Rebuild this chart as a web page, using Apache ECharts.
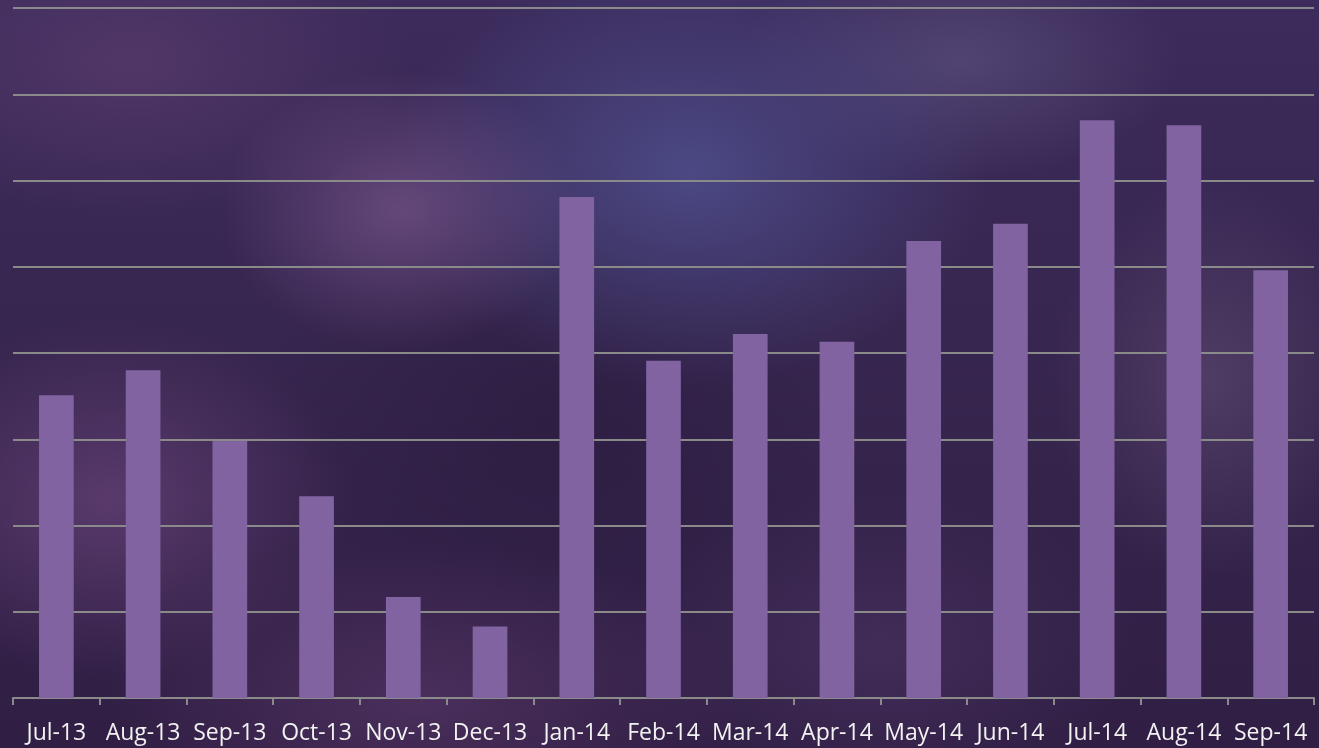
<!DOCTYPE html>
<html>
<head>
<meta charset="utf-8">
<script src="https://cdn.jsdelivr.net/npm/echarts@6/dist/echarts.min.js"></script>
<style>
html,body{margin:0;padding:0;width:1319px;height:748px;overflow:hidden;}
#bg{position:absolute;left:0;top:0;width:1319px;height:748px;
background:
radial-gradient(ellipse 180px 140px at 400px 210px, rgba(115,82,135,0.75), rgba(115,82,135,0) 100%),
radial-gradient(ellipse 300px 220px at 690px 170px, rgba(78,78,140,0.85), rgba(78,78,140,0) 100%),
radial-gradient(ellipse 220px 120px at 960px 60px, rgba(95,85,130,0.6), rgba(95,85,130,0) 100%),
radial-gradient(ellipse 160px 200px at 1210px 380px, rgba(100,80,120,0.55), rgba(100,80,120,0) 100%),
radial-gradient(ellipse 240px 180px at 110px 500px, rgba(110,70,125,0.65), rgba(110,70,125,0) 100%),
radial-gradient(ellipse 280px 160px at 130px 60px, rgba(90,60,110,0.7), rgba(90,60,110,0) 100%),
radial-gradient(ellipse 320px 160px at 420px 700px, rgba(95,60,110,0.55), rgba(95,60,110,0) 100%),
radial-gradient(ellipse 260px 160px at 880px 650px, rgba(85,60,110,0.45), rgba(85,60,110,0) 100%),
radial-gradient(ellipse 300px 250px at 560px 420px, rgba(40,25,60,0.55), rgba(40,25,60,0) 100%),
linear-gradient(180deg, #3c2b5c 0%, #37264f 45%, #301e44 100%);}
#chart{position:absolute;left:0;top:0;width:1319px;height:748px;}
</style>
</head>
<body>
<div id="bg"></div>
<div id="chart"></div>
<script>
const categories = ['Jul-13','Aug-13','Sep-13','Oct-13','Nov-13','Dec-13','Jan-14','Feb-14','Mar-14','Apr-14','May-14','Jun-14','Jul-14','Aug-14','Sep-14'];
const values = [3.51, 3.80, 2.98, 2.34, 1.17, 0.83, 5.81, 3.91, 4.22, 4.13, 5.30, 5.50, 6.70, 6.64, 4.96];
const yMin = 0, yMax = 8, yStep = 1;

const chart = echarts.init(document.getElementById('chart'), null, {renderer:'canvas'});
chart.setOption({
  backgroundColor: 'transparent',
  animation: false,
  grid: {left: 13, right: 5, top: 8, bottom: 50, containLabel: false},
  xAxis: {
    type: 'category',
    data: categories,
    axisLine: {lineStyle: {color: '#8a8a8a', width: 2}},
    axisTick: {show: true, length: 7, lineStyle: {color: '#8a8a8a', width: 2}},
    axisLabel: {color: '#f2f2f2', fontFamily: 'Open Sans', fontSize: 23, margin: 24, interval: 0}
  },
  yAxis: {
    type: 'value', min: yMin, max: yMax, interval: yStep,
    axisLabel: {show: false},
    axisLine: {show: false}, axisTick: {show: false},
    splitLine: {lineStyle: {color: '#8a8a8a', width: 2}}
  },
  series: [{
    type: 'bar',
    data: values,
    barWidth: '40%',
    itemStyle: {color: '#8063a0'}
  }]
});
</script>
</body>
</html>
